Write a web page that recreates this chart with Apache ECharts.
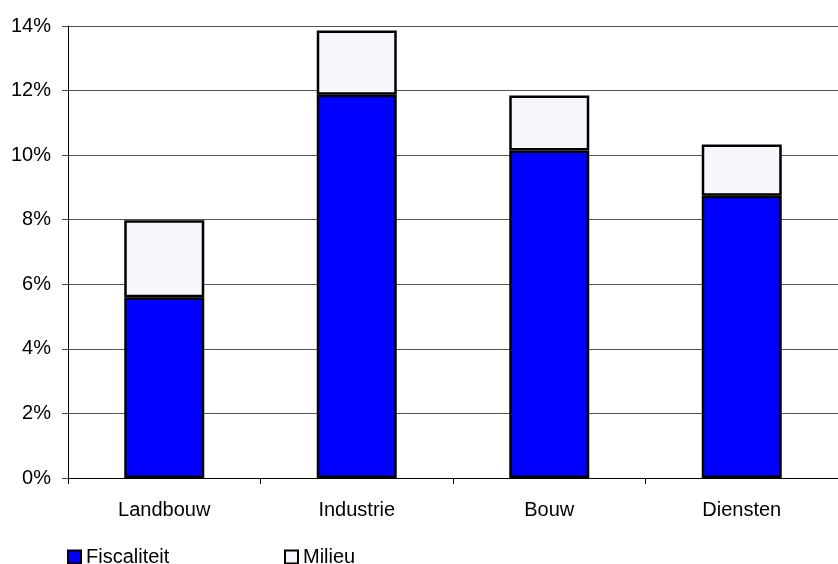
<!DOCTYPE html>
<html>
<head>
<meta charset="utf-8">
<script src="https://cdn.jsdelivr.net/npm/echarts@6/dist/echarts.min.js"></script>
<style>html,body{margin:0;padding:0;background:#fff}#c{width:838px;height:564px}</style>
</head>
<body>
<div id="c"></div>
<script>
const categories = ['Landbouw', 'Industrie', 'Bouw', 'Diensten'];
const fiscaliteit = [5.6, 11.87, 10.14, 8.74];
const milieu = [2.38, 1.99, 1.71, 1.59];
const seriesNames = ['Fiscaliteit', 'Milieu'];

const chart = echarts.init(document.getElementById('c'), null, {renderer: 'canvas'});
const font = 'Liberation Sans, Arial, Helvetica, sans-serif';
const legendCommon = {top: 547, padding: 0, itemWidth: 13, itemHeight: 13, itemGap: 5,
  icon: 'rect', textStyle: {fontFamily: font, fontSize: 20, color: '#000', padding: [0,0,0,0]}};
chart.setOption({
  animation: false,
  backgroundColor: '#fff',
  grid: {left: 68, top: 26, width: 780, height: 452, containLabel: false},
  legend: [
    Object.assign({data: [seriesNames[0]], left: 67}, legendCommon),
    Object.assign({data: [seriesNames[1]], left: 284}, legendCommon)
  ],
  xAxis: {
    type: 'category', data: categories, boundaryGap: true,
    axisLine: {show: true, lineStyle: {color: '#000', width: 1}},
    axisTick: {show: true, length: 6, lineStyle: {color: '#000'}},
    axisLabel: {fontFamily: font, fontSize: 20, color: '#000', margin: 22}
  },
  yAxis: {
    type: 'value', min: 0, max: 14, interval: 2,
    axisLine: {show: true, lineStyle: {color: '#000', width: 1}},
    axisTick: {show: true, length: 6, lineStyle: {color: '#444'}},
    axisLabel: {fontFamily: font, fontSize: 20, color: '#000', margin: 17, formatter: '{value}%'},
    splitLine: {show: true, lineStyle: {color: '#555', width: 1}}
  },
  series: [
    {name: seriesNames[0], type: 'bar', stack: 'a', data: fiscaliteit, barWidth: 80,
     itemStyle: {color: '#0000ff', borderColor: '#000', borderWidth: 2.5}},
    {name: seriesNames[1], type: 'bar', stack: 'a', data: milieu, barWidth: 80,
     itemStyle: {color: '#f6f6fd', borderColor: '#000', borderWidth: 2.5}}
  ]
});
</script>
</body>
</html>
